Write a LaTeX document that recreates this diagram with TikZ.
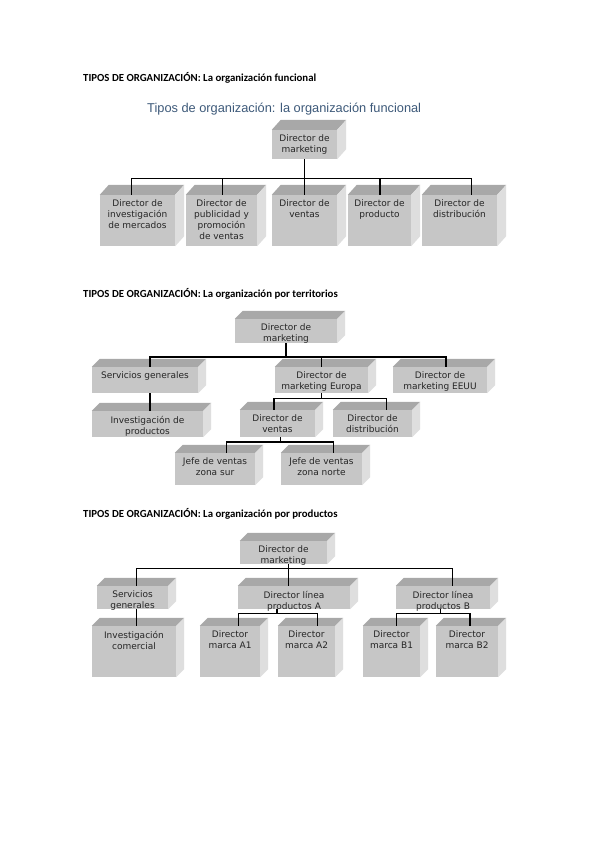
\documentclass[tikz,border=0pt]{standalone}
\usepackage{fontspec}
\newfontfamily\boxfont{DejaVu Sans}
\newfontfamily\hdrfont{Carlito}
\newfontfamily\ttlfont{Liberation Sans}
\definecolor{frontc}{HTML}{C6C6C6}
\definecolor{topc}{HTML}{A8A8A8}
\definecolor{sidec}{HTML}{DEDEDE}
\definecolor{ttlc}{HTML}{3E5A7A}
\tikzset{
  obx/.style={rectangle, fill=frontc, inner sep=0pt},
  btxt/.style={anchor=north, align=center, inner sep=0pt, font=\boxfont\fontsize{9}{11}\selectfont, text=black!85},
  conn/.style={line width=1.2pt, black},
  hdr/.style={anchor=base west, inner sep=0pt, font=\hdrfont\bfseries\fontsize{10.8}{13}\selectfont},
}
\newcommand\obox[6]{%
  \node[obx, minimum width={#4-#2}, minimum height={#5-#3}] (#1) at ({(#2+#4)/2},{(#3+#5)/2}) {};
  \node[btxt] (#1t) at ([yshift=-5pt]#1.north) {#6};
}
\newcommand\faces[3]{%
  \fill[topc] (#1.north west) -- ++(#2,-#3) -- ([shift={(#2,-#3)}]#1.north east) -- (#1.north east) -- cycle;
  \fill[sidec] (#1.north east) -- ++(#2,-#3) -- ([shift={(#2,-#3)}]#1.south east) -- (#1.south east) -- cycle;
}
\begin{document}
\begin{tikzpicture}[x=1pt, y=-1pt]
\fill[white] (0,0) rectangle (599,848);
\useasboundingbox (0,0) rectangle (599,848);

% ---------- Section 1 ----------
\node[hdr] (h1) at (83,81.5) {TIPOS DE ORGANIZACIÓN: La organización funcional};
\node[anchor=base west, inner sep=0pt, font=\ttlfont\fontsize{12.8}{15}\selectfont, text=ttlc] (title) at (147,113) {Tipos de organización: la organización funcional};

\obox{f0}{272}{130}{337}{159}{Director de\\marketing}
\obox{f1}{100}{195}{175}{246}{Director de\\investigación\\de mercados}
\obox{f2}{186}{195}{257}{246}{Director de\\publicidad y\\promoción\\de ventas}
\obox{f3}{272}{195}{337}{246}{Director de\\ventas}
\obox{f4}{348}{195}{411}{246}{Director de\\producto}
\obox{f5}{422}{195}{497}{246}{Director de\\distribución}
\foreach \n in {f0,f1,f2,f3,f4,f5} {\faces{\n}{9}{10}}

\draw[conn] (f0.south) -- ++(0,19) -| ([xshift=-6pt]f1.north);
\draw[conn] (f0.south) -- ++(0,19) -| ([xshift=1pt]f2.north);
\draw[conn] (f0.south) -- (f3.north);
\draw[conn] (f0.south) -- ++(0,19) -| ([xshift=0.5pt]f4.north);
\draw[conn] (f0.south) -- ++(0,19) -| ([xshift=12pt]f5.north);

% ---------- Section 2 ----------
\node[hdr] (h2) at (83,297.5) {TIPOS DE ORGANIZACIÓN: La organización por territorios};

\obox{t0}{235}{319}{337}{343}{Director de\\marketing}
\obox{t1}{92}{367}{198}{393}{Servicios generales}
\obox{t2}{275}{367}{368}{393}{Director de\\marketing Europa}
\obox{t3}{393}{367}{487}{393}{Director de\\marketing EEUU}
\obox{t4}{92}{411}{203}{437}{Investigación de\\productos}
\obox{t5}{240}{410}{315}{437}{Director de\\ventas}
\obox{t6}{333}{410}{412}{437}{Director de\\distribución}
\obox{t7}{175}{453}{255}{485}{Jefe de ventas\\zona sur}
\obox{t8}{281}{453}{362}{485}{Jefe de ventas\\zona norte}
\foreach \n in {t0,t1,t2,t3,t4,t5,t6,t7,t8} {\faces{\n}{8}{8}}

\draw[conn] (t0.south) -- ++(0,13.7) -| ([xshift=5pt]t1.north);
\draw[conn] (t0.south) -- ++(0,13.7) -| (t2.north);
\draw[conn] (t0.south) -- ++(0,13.7) -| ([xshift=6pt]t3.north);
\draw[conn] ([xshift=5pt]t1.south) -- ([xshift=5pt]t1.south |- t4.north);
\draw[conn] (t2.south) -- ++(0,5.3) -| ([xshift=-3.5pt]t5.north);
\draw[conn] (t2.south) -- ++(0,5.3) -| ([xshift=14pt]t6.north);
\draw[conn] ([xshift=3pt]t5.south) -- ++(0,4.7) -| ([xshift=11.7pt]t7.north);
\draw[conn] ([xshift=3pt]t5.south) -- ++(0,4.7) -| ([xshift=12pt]t8.north);

% ---------- Section 3 ----------
\node[hdr] (h3) at (83,517.5) {TIPOS DE ORGANIZACIÓN: La organización por productos};

\obox{p0}{240}{541}{327}{564}{Director de\\marketing}
\obox{p1}{97}{586}{168}{609}{Servicios\\generales}
\obox{p2}{238}{586}{350}{609}{Director línea\\productos A}
\obox{p3}{396}{586}{490}{609}{Director línea\\productos B}
\obox{p4}{92}{626}{176}{677}{Investigación\\comercial}
\obox{p5}{200}{626}{260}{677}{Director\\marca A1}
\obox{p6}{278}{626}{335}{677}{Director\\marca A2}
\obox{p7}{363}{626}{420}{677}{Director\\marca B1}
\obox{p8}{436}{626}{498}{677}{Director\\marca B2}
\foreach \n in {p0,p1,p2,p3,p4,p5,p6,p7,p8} {\faces{\n}{8}{8}}

\draw[conn] ([xshift=5pt]p0.south) -- ++(0,4.3) -| ([xshift=4pt]p1.north);
\draw[conn] ([xshift=5pt]p0.south) -- ++(0,4.3) -| ([xshift=-5.7pt]p2.north);
\draw[conn] ([xshift=5pt]p0.south) -- ++(0,4.3) -| ([xshift=9.7pt]p3.north);
\draw[conn] ([xshift=4pt]p1.south) -- ([xshift=4pt]p1.south |- p4.north);
\draw[conn] ([xshift=-17pt]p2.south) -- ++(0,4.3) -| ([xshift=8.3pt]p5.north);
\draw[conn] ([xshift=-17pt]p2.south) -- ++(0,4.3) -| ([xshift=10.8pt]p6.north);
\draw[conn] ([xshift=-2.3pt]p3.south) -- ++(0,4.3) -| ([xshift=5pt]p7.north);
\draw[conn] ([xshift=-2.3pt]p3.south) -- ++(0,4.3) -| ([xshift=3pt]p8.north);
\end{tikzpicture}
\end{document}
